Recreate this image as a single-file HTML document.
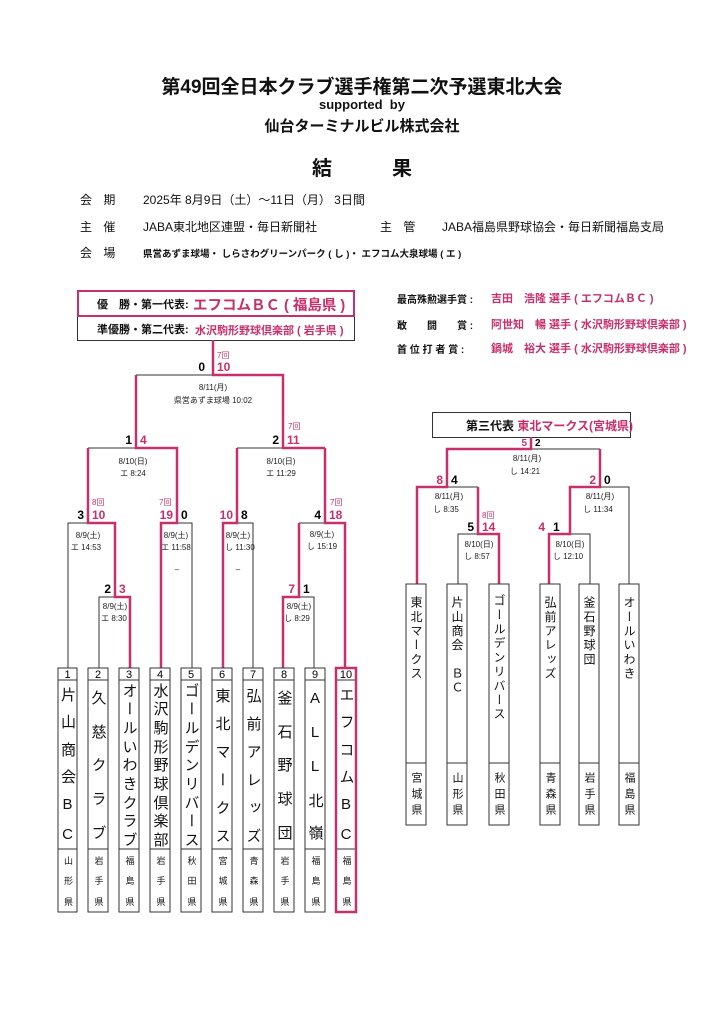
<!DOCTYPE html>
<html><head><meta charset="utf-8">
<style>
html,body{margin:0;padding:0;background:#fff;}
body{width:724px;height:1024px;position:relative;overflow:hidden;font-family:"Liberation Sans","Noto Sans CJK JP",sans-serif;color:#111;}
.a{position:absolute;white-space:nowrap;}
.pk{color:#c8306c;}
.tb{position:absolute;display:flex;flex-direction:column;justify-content:space-around;align-items:center;font-size:15px;}
.tb i{font-style:normal;writing-mode:vertical-rl;text-orientation:upright;line-height:1;}
.pf{font-size:9px;}
.rb{position:absolute;writing-mode:vertical-rl;text-orientation:upright;font-size:12px;line-height:20px;letter-spacing:2.2px;}
.rp{position:absolute;writing-mode:vertical-rl;text-orientation:upright;font-size:11px;line-height:20px;letter-spacing:5px;}
</style></head><body>

<div class="a" style="left:0;width:724px;text-align:center;top:72px;font-size:19px;font-weight:bold;">第49回全日本クラブ選手権第二次予選東北大会</div>
<div class="a" style="left:0;width:724px;text-align:center;top:97px;font-size:13px;font-weight:bold;">supported&nbsp; by</div>
<div class="a" style="left:0;width:724px;text-align:center;top:115px;font-size:15px;font-weight:bold;">仙台ターミナルビル株式会社</div>
<div class="a" style="left:0;width:724px;text-align:center;top:152px;font-size:20px;font-weight:bold;letter-spacing:20px;text-indent:20px;">結　果</div>

<div class="a" style="left:80px;top:191px;font-size:12px;letter-spacing:4px;">会 期</div>
<div class="a" style="left:143px;top:191px;font-size:12px;">2025年 8月9日（土）～11日（月） 3日間</div>
<div class="a" style="left:80px;top:218px;font-size:12px;letter-spacing:4px;">主 催</div>
<div class="a" style="left:143px;top:218px;font-size:12px;">JABA東北地区連盟・毎日新聞社</div>
<div class="a" style="left:380px;top:218px;font-size:12px;letter-spacing:4px;">主 管</div>
<div class="a" style="left:442px;top:218px;font-size:12px;">JABA福島県野球協会・毎日新聞福島支局</div>
<div class="a" style="left:80px;top:244px;font-size:12px;letter-spacing:4px;">会 場</div>
<div class="a" style="left:143px;top:246px;font-size:9.5px;font-weight:bold;">県営あずま球場・ しらさわグリーンパーク ( し )・ エフコム大泉球場 ( エ )</div>

<!-- champion box -->
<div class="a" style="left:77px;top:315px;width:276px;height:24px;border:1px solid #333;"></div>
<div class="a" style="left:77px;top:290px;width:274px;height:23px;border:2.5px solid #c8306c;"></div>
<div class="a" style="left:97px;top:296px;font-size:11px;font-weight:bold;">優　勝・第一代表:</div>
<div class="a pk" style="left:193px;top:294px;font-size:14.5px;font-weight:bold;">エフコムＢＣ ( 福島県 )</div>
<div class="a" style="left:97px;top:321px;font-size:11px;font-weight:bold;">準優勝・第二代表:</div>
<div class="a pk" style="left:195px;top:322px;font-size:11px;font-weight:bold;">水沢駒形野球倶楽部 ( 岩手県 )</div>

<!-- awards -->
<div class="a" style="left:397px;top:291px;font-size:10px;font-weight:bold;">最高殊勲選手賞 :</div>
<div class="a pk" style="left:491px;top:290px;font-size:11px;font-weight:bold;">吉田　浩隆 選手 ( エフコムＢＣ )</div>
<div class="a" style="left:397px;top:317px;font-size:10px;font-weight:bold;">敢　　闘　　賞 :</div>
<div class="a pk" style="left:491px;top:316px;font-size:11px;font-weight:bold;">阿世知　暢 選手 ( 水沢駒形野球倶楽部 )</div>
<div class="a" style="left:397px;top:341px;font-size:10px;font-weight:bold;">首 位 打 者 賞 :</div>
<div class="a pk" style="left:491px;top:340px;font-size:11px;font-weight:bold;">鍋城　裕大 選手 ( 水沢駒形野球倶楽部 )</div>

<!-- third rep box -->
<div class="a" style="left:432px;top:412px;width:197px;height:24px;border:1px solid #333;"></div>
<div class="a" style="left:466px;top:417px;font-size:12px;font-weight:bold;">第三代表 <span class="pk">東北マークス(宮城県)</span></div>

<svg class="a" style="left:0;top:0" width="724" height="1024" font-family="Liberation Sans, Noto Sans CJK JP, sans-serif">
<g stroke="#333" stroke-width="1" fill="none">
<polyline points="99,668 99,597 115,597"/>
<polyline points="68,668 68,523 88,523"/>
<polyline points="177,523 192,523 192,668"/>
<polyline points="237,523 253,523 253,668"/>
<polyline points="299,597 314,597 314,668"/>
<line x1="299" y1="523" x2="325" y2="523"/>
<line x1="88" y1="448" x2="136" y2="448"/>
<line x1="237" y1="448" x2="283" y2="448"/>
<line x1="136" y1="375" x2="213" y2="375"/>
<polyline points="531,449 600,449"/>
<polyline points="447,487 478,487"/>
<polyline points="458,584 458,534 478,534"/>
<polyline points="600,487 629,487 629,584"/>
<polyline points="570,534 590,534 590,584"/>
</g>
<g stroke="#c8306c" stroke-width="2.5" fill="none" stroke-linejoin="miter">
<polyline points="130,668 130,597 115,597 115,523 88,523 88,448"/>
<polyline points="161,668 161,523 177,523 177,448 136,448 136,375"/>
<polyline points="223,668 223,523 237,523 237,448"/>
<polyline points="283,668 283,597 299,597 299,523"/>
<polyline points="345,668 345,523 325,523 325,448"/>
<polyline points="325,448 283,448 283,375 213,375 213,340"/>
<polyline points="417,584 417,487 447,487 447,449 531,449 531,437"/>
<polyline points="499,584 499,534 478,534 478,487"/>
<polyline points="549,584 549,534 570,534 570,487 600,487 600,449"/>
</g>

<g font-size="12" font-weight="bold">
<text x="205" y="371" text-anchor="end">0</text><text x="217" y="371" fill="#c8306c">10</text>
<text x="132" y="444" text-anchor="end">1</text><text x="140" y="444" fill="#c8306c">4</text>
<text x="279" y="444" text-anchor="end">2</text><text x="287" y="444" fill="#c8306c">11</text>
<text x="84" y="519" text-anchor="end">3</text><text x="92" y="519" fill="#c8306c">10</text>
<text x="173" y="519" text-anchor="end" fill="#c8306c">19</text><text x="181" y="519">0</text>
<text x="233" y="519" text-anchor="end" fill="#c8306c">10</text><text x="241" y="519">8</text>
<text x="321" y="519" text-anchor="end">4</text><text x="329" y="519" fill="#c8306c">18</text>
<text x="111" y="593" text-anchor="end">2</text><text x="119" y="593" fill="#c8306c">3</text>
<text x="295" y="593" text-anchor="end" fill="#c8306c">7</text><text x="303" y="593">1</text>
<text x="527" y="446" text-anchor="end" fill="#c8306c" font-size="10">5</text><text x="535" y="446" font-size="10">2</text>
<text x="443" y="484" text-anchor="end" fill="#c8306c">8</text><text x="451" y="484">4</text>
<text x="596" y="484" text-anchor="end" fill="#c8306c">2</text><text x="604" y="484">0</text>
<text x="474" y="531" text-anchor="end">5</text><text x="482" y="531" fill="#c8306c">14</text>
<text x="545" y="531" text-anchor="end" fill="#c8306c">4</text><text x="553" y="531">1</text>
</g>
<g font-size="8" fill="#c8306c">
<text x="217" y="358">7回</text>
<text x="288" y="429">7回</text>
<text x="92" y="505">8回</text>
<text x="159" y="505">7回</text>
<text x="330" y="505">7回</text>
<text x="482" y="518">8回</text>
</g>
<g font-size="8" text-anchor="middle" fill="#222">
<text x="213" y="390">8/11(月)</text><text x="213" y="403">県営あずま球場 10:02</text>
<text x="133" y="464">8/10(日)</text><text x="133" y="476">エ 8:24</text>
<text x="281" y="464">8/10(日)</text><text x="281" y="476">エ 11:29</text>
<text x="88" y="538">8/9(土)</text><text x="86" y="550">エ 14:53</text>
<text x="176" y="538">8/9(土)</text><text x="176" y="550">エ 11:58</text><text x="177" y="572">–</text>
<text x="238" y="538">8/9(土)</text><text x="240" y="550">し 11:30</text><text x="238" y="572">–</text>
<text x="322" y="537">8/9(土)</text><text x="322" y="549">し 15:19</text>
<text x="115" y="609">8/9(土)</text><text x="114" y="621">エ 8:30</text>
<text x="299" y="609">8/9(土)</text><text x="297" y="621">し 8:29</text>
<text x="527" y="461">8/11(月)</text><text x="525" y="474">し 14:21</text>
<text x="449" y="499">8/11(月)</text><text x="446" y="512">し 8:35</text>
<text x="600" y="499">8/11(月)</text><text x="598" y="512">し 11:34</text>
<text x="479" y="547">8/10(日)</text><text x="477" y="559">し 8:57</text>
<text x="570" y="547">8/10(日)</text><text x="568" y="559">し 12:10</text>
</g>

<g stroke="#333" stroke-width="1" fill="none">
<rect x="58" y="668" width="19" height="244"/><line x1="58" y1="680" x2="77" y2="680"/><line x1="58" y1="849" x2="77" y2="849"/>
<rect x="88" y="668" width="20" height="244"/><line x1="88" y1="680" x2="108" y2="680"/><line x1="88" y1="849" x2="108" y2="849"/>
<rect x="119" y="668" width="20" height="244"/><line x1="119" y1="680" x2="139" y2="680"/><line x1="119" y1="849" x2="139" y2="849"/>
<rect x="150" y="668" width="20" height="244"/><line x1="150" y1="680" x2="170" y2="680"/><line x1="150" y1="849" x2="170" y2="849"/>
<rect x="181" y="668" width="20" height="244"/><line x1="181" y1="680" x2="201" y2="680"/><line x1="181" y1="849" x2="201" y2="849"/>
<rect x="212" y="668" width="20" height="244"/><line x1="212" y1="680" x2="232" y2="680"/><line x1="212" y1="849" x2="232" y2="849"/>
<rect x="243" y="668" width="20" height="244"/><line x1="243" y1="680" x2="263" y2="680"/><line x1="243" y1="849" x2="263" y2="849"/>
<rect x="274" y="668" width="20" height="244"/><line x1="274" y1="680" x2="294" y2="680"/><line x1="274" y1="849" x2="294" y2="849"/>
<rect x="305" y="668" width="20" height="244"/><line x1="305" y1="680" x2="325" y2="680"/><line x1="305" y1="849" x2="325" y2="849"/>
<line x1="336" y1="680" x2="356" y2="680"/><line x1="336" y1="849" x2="356" y2="849"/>
<rect x="406" y="584" width="20" height="241"/><line x1="406" y1="763" x2="426" y2="763"/>
<rect x="447" y="584" width="20" height="241"/><line x1="447" y1="763" x2="467" y2="763"/>
<rect x="489" y="584" width="20" height="241"/><line x1="489" y1="763" x2="509" y2="763"/>
<rect x="540" y="584" width="20" height="241"/><line x1="540" y1="763" x2="560" y2="763"/>
<rect x="579" y="584" width="20" height="241"/><line x1="579" y1="763" x2="599" y2="763"/>
<rect x="619" y="584" width="20" height="241"/><line x1="619" y1="763" x2="639" y2="763"/>
</g>
<rect x="336" y="668" width="20" height="244" stroke="#c8306c" stroke-width="2.5" fill="none"/>
<g font-size="11" text-anchor="middle">
<text x="67.5" y="678">1</text><text x="98" y="678">2</text><text x="129" y="678">3</text><text x="160" y="678">4</text><text x="191" y="678">5</text>
<text x="222" y="678">6</text><text x="253" y="678">7</text><text x="284" y="678">8</text><text x="315" y="678">9</text><text x="346" y="678">10</text>
</g>
</svg>

<div class="tb" style="left:58px;top:681px;width:19px;height:168px;"><i>片</i><i>山</i><i>商</i><i>会</i><i>B</i><i>C</i></div>
<div class="tb" style="left:88px;top:681px;width:20px;height:168px;"><i>久</i><i>慈</i><i>ク</i><i>ラ</i><i>ブ</i></div>
<div class="tb" style="left:119px;top:681px;width:20px;height:168px;"><i>オ</i><i>ー</i><i>ル</i><i>い</i><i>わ</i><i>き</i><i>ク</i><i>ラ</i><i>ブ</i></div>
<div class="tb" style="left:150px;top:681px;width:20px;height:168px;"><i>水</i><i>沢</i><i>駒</i><i>形</i><i>野</i><i>球</i><i>倶</i><i>楽</i><i>部</i></div>
<div class="tb" style="left:181px;top:681px;width:20px;height:168px;"><i>ゴ</i><i>ー</i><i>ル</i><i>デ</i><i>ン</i><i>リ</i><i>バ</i><i>ー</i><i>ス</i></div>
<div class="tb" style="left:212px;top:681px;width:20px;height:168px;"><i>東</i><i>北</i><i>マ</i><i>ー</i><i>ク</i><i>ス</i></div>
<div class="tb" style="left:243px;top:681px;width:20px;height:168px;"><i>弘</i><i>前</i><i>ア</i><i>レ</i><i>ッ</i><i>ズ</i></div>
<div class="tb" style="left:274px;top:681px;width:20px;height:168px;"><i>釜</i><i>石</i><i>野</i><i>球</i><i>団</i></div>
<div class="tb" style="left:305px;top:681px;width:20px;height:168px;"><i>A</i><i>L</i><i>L</i><i>北</i><i>嶺</i></div>
<div class="tb" style="left:336px;top:681px;width:20px;height:168px;"><i>エ</i><i>フ</i><i>コ</i><i>ム</i><i>B</i><i>C</i></div>

<div class="tb pf" style="left:58px;top:850px;width:19px;height:62px;"><i>山</i><i>形</i><i>県</i></div>
<div class="tb pf" style="left:88px;top:850px;width:20px;height:62px;"><i>岩</i><i>手</i><i>県</i></div>
<div class="tb pf" style="left:119px;top:850px;width:20px;height:62px;"><i>福</i><i>島</i><i>県</i></div>
<div class="tb pf" style="left:150px;top:850px;width:20px;height:62px;"><i>岩</i><i>手</i><i>県</i></div>
<div class="tb pf" style="left:181px;top:850px;width:20px;height:62px;"><i>秋</i><i>田</i><i>県</i></div>
<div class="tb pf" style="left:212px;top:850px;width:20px;height:62px;"><i>宮</i><i>城</i><i>県</i></div>
<div class="tb pf" style="left:243px;top:850px;width:20px;height:62px;"><i>青</i><i>森</i><i>県</i></div>
<div class="tb pf" style="left:274px;top:850px;width:20px;height:62px;"><i>岩</i><i>手</i><i>県</i></div>
<div class="tb pf" style="left:305px;top:850px;width:20px;height:62px;"><i>福</i><i>島</i><i>県</i></div>
<div class="tb pf" style="left:336px;top:850px;width:20px;height:62px;"><i>福</i><i>島</i><i>県</i></div>

<div class="rb" style="left:406px;top:596px;width:20px;">東北マークス</div>
<div class="rb" style="left:447px;top:596px;width:20px;">片山商会　ＢＣ</div>
<div class="rb" style="left:489px;top:594px;width:20px;">ゴールデンリバース</div>
<div class="rb" style="left:540px;top:596px;width:20px;">弘前アレッズ</div>
<div class="rb" style="left:579px;top:596px;width:20px;">釜石野球団</div>
<div class="rb" style="left:619px;top:596px;width:20px;">オールいわき</div>

<div class="rp" style="left:406px;top:772px;width:20px;">宮城県</div>
<div class="rp" style="left:447px;top:772px;width:20px;">山形県</div>
<div class="rp" style="left:489px;top:772px;width:20px;">秋田県</div>
<div class="rp" style="left:540px;top:772px;width:20px;">青森県</div>
<div class="rp" style="left:579px;top:772px;width:20px;">岩手県</div>
<div class="rp" style="left:619px;top:772px;width:20px;">福島県</div>

</body></html>
